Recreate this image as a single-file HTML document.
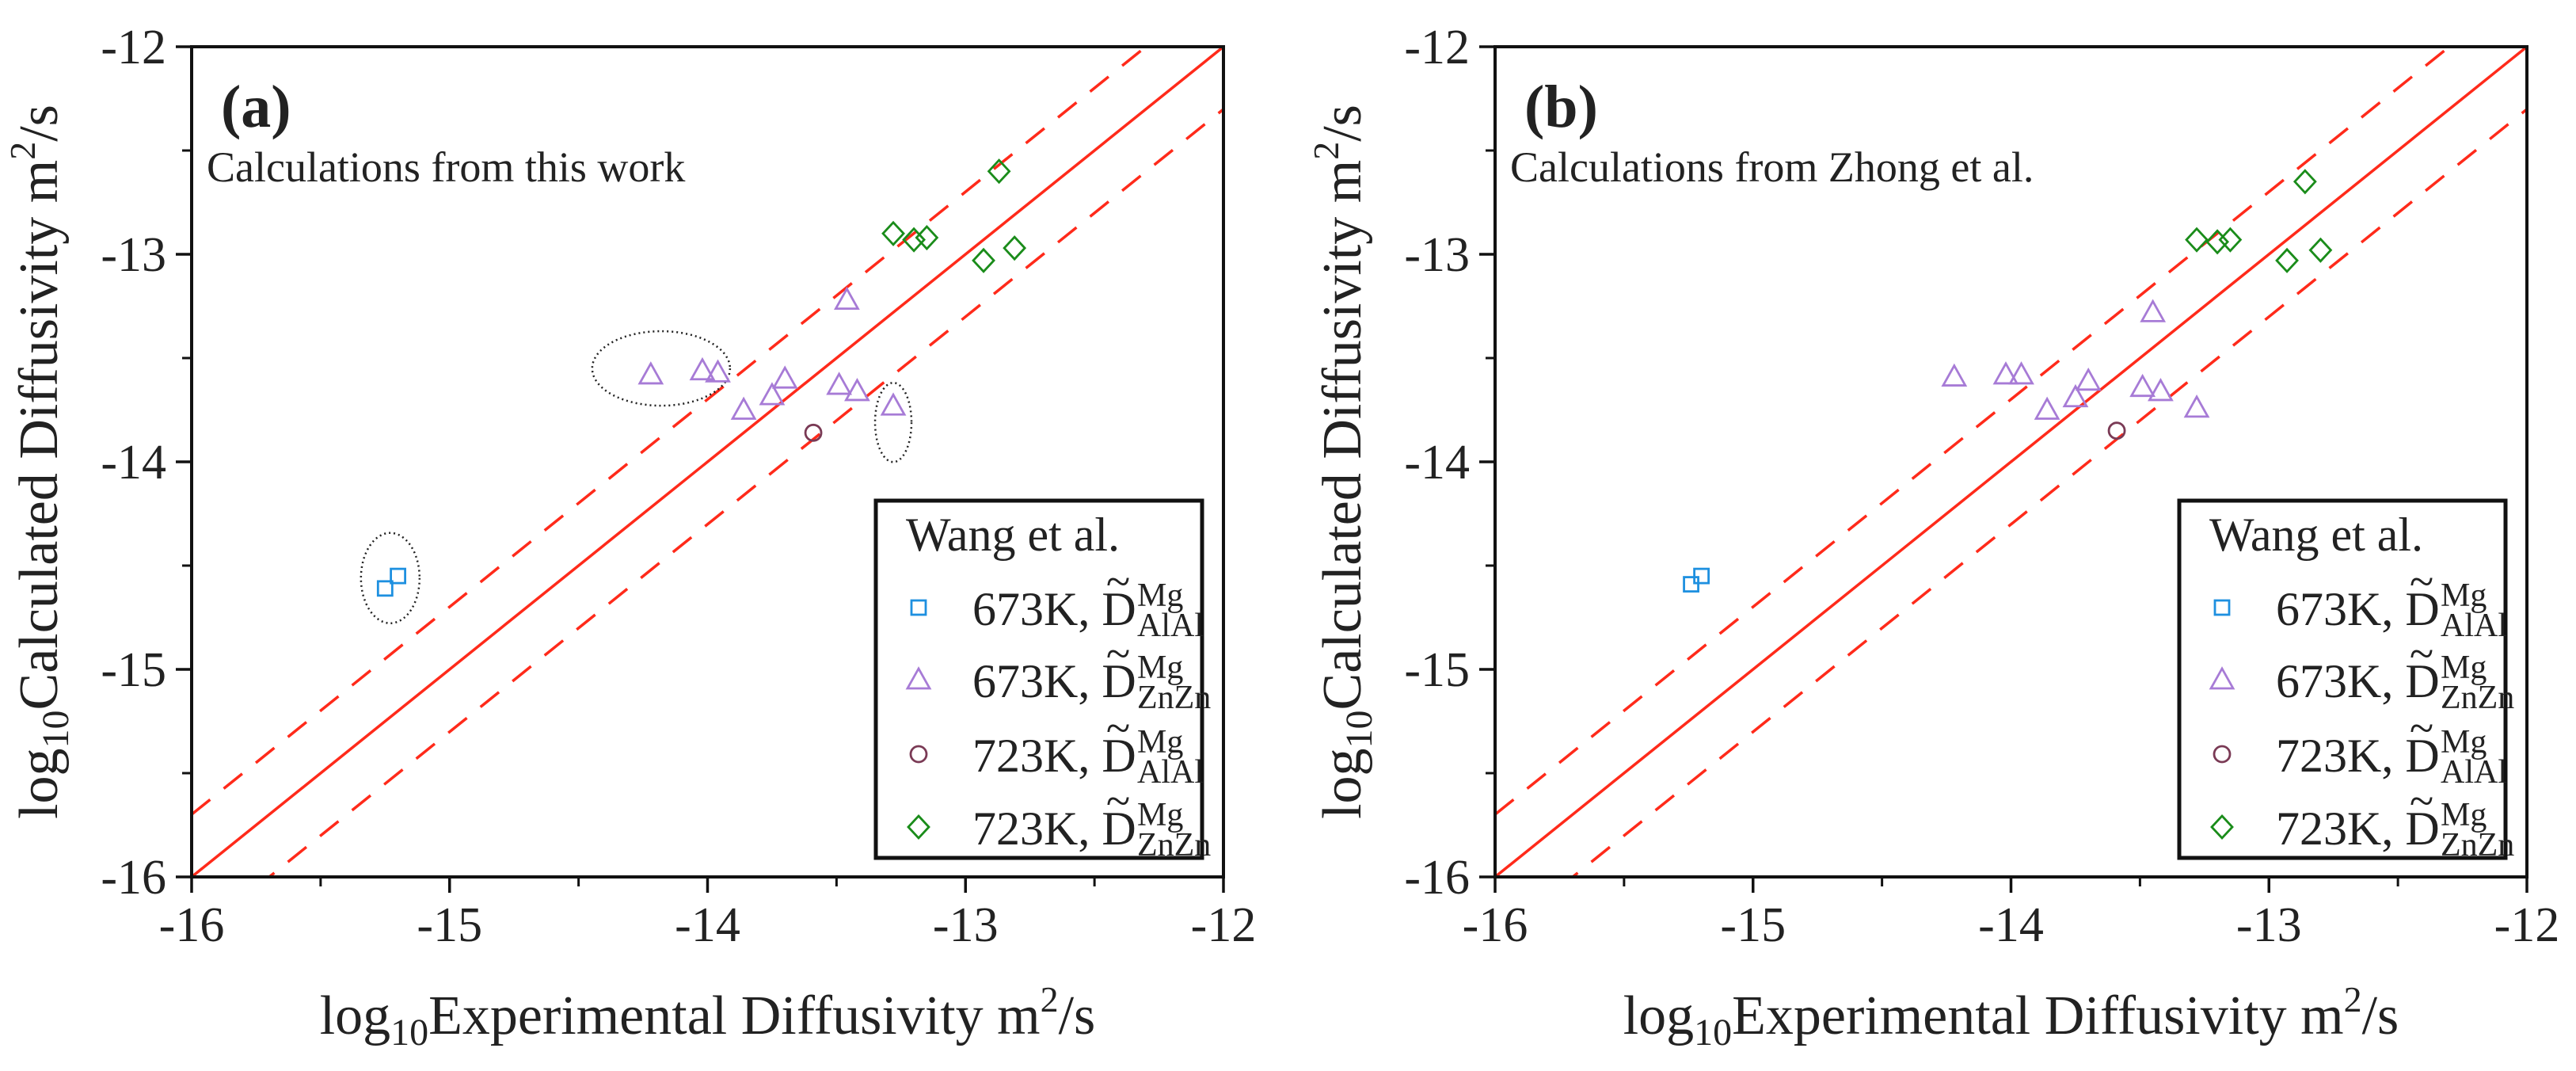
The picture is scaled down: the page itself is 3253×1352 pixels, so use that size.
<!DOCTYPE html>
<html><head><meta charset="utf-8"><style>
html,body{margin:0;padding:0;background:#fff}
svg{display:block}
text{font-family:"Liberation Serif",serif;fill:#222}
</style></head><body>
<svg id="fig" width="3253" height="1352" xmlns="http://www.w3.org/2000/svg"></svg>
<script>
const ticks=[-16,-15,-14,-13,-12];
const tickLabels=["-16","-15","-14","-13","-12"];
const minorTicks=[-15.5,-14.5,-13.5,-12.5];
const bandOffset=0.301;
// Panel a
const aSqX=[-15.25,-15.20], aSqY=[-14.61,-14.55];
const aTriX=[-14.22,-14.02,-13.96,-13.70,-13.75,-13.86,-13.49,-13.42,-13.46,-13.28];
const aTriY=[-13.58,-13.56,-13.57,-13.60,-13.68,-13.75,-13.63,-13.66,-13.22,-13.73];
const aCirX=[-13.59], aCirY=[-13.86];
const aDiaX=[-12.87,-13.28,-13.20,-13.15,-12.93,-12.81];
const aDiaY=[-12.60,-12.90,-12.93,-12.92,-13.03,-12.97];
// Panel b
const bSqX=[-15.24,-15.20], bSqY=[-14.59,-14.55];
const bTriX=[-14.22,-14.02,-13.96,-13.70,-13.75,-13.86,-13.49,-13.42,-13.45,-13.28];
const bTriY=[-13.59,-13.58,-13.58,-13.61,-13.69,-13.75,-13.64,-13.66,-13.28,-13.74];
const bCirX=[-13.59], bCirY=[-13.85];
const bDiaX=[-12.86,-13.28,-13.20,-13.15,-12.93,-12.80];
const bDiaY=[-12.65,-12.93,-12.94,-12.93,-13.03,-12.98];
// highlight ellipses (panel a): centers in data
const ellX=[-14.18,-13.28,-15.23], ellY=[-13.55,-13.81,-14.56];

const NS="http://www.w3.org/2000/svg";
const fig=document.getElementById('fig');
function mk(tag,attrs,parent){const e=document.createElementNS(NS,tag);for(const k in attrs)e.setAttribute(k,attrs[k]);(parent||fig).appendChild(e);return e;}
const COL={sq:"#1e90e0",tri:"#a77bd6",cir:"#7a3a55",dia:"#1a8c1a",red:"#ff2a1a"};
const B=1107,TOP=59,H=1048,W=1303;

function marker(g,type,cx,cy){
  let e;
  if(type==="sq"){e=mk('rect',{x:cx-9,y:cy-9,width:18,height:18,fill:"none",stroke:COL.sq,"stroke-width":2.8},g);}
  else if(type==="tri"){e=mk('polygon',{points:`${cx},${cy-14} ${cx-14},${cy+11} ${cx+14},${cy+11}`,fill:"none",stroke:COL.tri,"stroke-width":2.8},g);}
  else if(type==="cir"){e=mk('circle',{cx:cx,cy:cy,r:10,fill:"none",stroke:COL.cir,"stroke-width":2.8},g);}
  else {e=mk('polygon',{points:`${cx},${cy-14} ${cx+13},${cy} ${cx},${cy+14} ${cx-13},${cy}`,fill:"none",stroke:COL.dia,"stroke-width":2.8},g);}
  return e;
}

function panel(id,L,label,note,sets,ellipses){
  const g=mk('g',{});
  
  
  const sx=v=>L+(v+16)/4*W, sy=v=>B-(v+16)/4*H;
  const clip=mk('clipPath',{id:'clip'+id},g);mk('rect',{x:L,y:TOP,width:W,height:H},clip);
  const lines=mk('g',{'clip-path':`url(#clip${id})`},g);
  const d=mk('line',{x1:sx(-16),y1:sy(-16),x2:sx(-12),y2:sy(-12),stroke:COL.red,"stroke-width":3.5},lines);
  
  
  [bandOffset,-bandOffset].forEach((o,i)=>{
    const l=mk('line',{x1:sx(-16),y1:sy(-16+o),x2:sx(-12),y2:sy(-12+o),stroke:COL.red,"stroke-width":3.5,"stroke-dasharray":"30 22"},lines);
    
    
  });
  if(ellipses){
    const rx=[87,23,37],ry=[47,50,57];
    ellX.forEach((v,i)=>{
      const e=mk('ellipse',{cx:sx(v),cy:sy(ellY[i]),rx:rx[i],ry:ry[i],fill:"none",stroke:"#222","stroke-width":2.5,"stroke-dasharray":"2 4"},g);
      
      
    });
  }
  sets.forEach(s=>{
    s.x.forEach((v,i)=>{
      const m=marker(g,s.type,sx(v),sy(s.y[i]));
      
      
    });
  });
  const fr=mk('rect',{x:L,y:TOP,width:W,height:H,fill:"none",stroke:"#111","stroke-width":4},g);
  
  
  ticks.forEach((t,i)=>{
    mk('line',{x1:sx(t),y1:B,x2:sx(t),y2:B+20,stroke:"#111","stroke-width":3.5},g);
    mk('line',{x1:L,y1:sy(t),x2:L-20,y2:sy(t),stroke:"#111","stroke-width":3.5},g);
    const xl=mk('text',{x:sx(t),y:1188,"text-anchor":"middle","font-size":62},g);xl.textContent=tickLabels[i];
    
    
    const yl=mk('text',{x:L-32,y:sy(t)+21,"text-anchor":"end","font-size":62},g);yl.textContent=tickLabels[i];
    
    
  });
  minorTicks.forEach(t=>{
    mk('line',{x1:sx(t),y1:B,x2:sx(t),y2:B+12,stroke:"#111","stroke-width":3},g);
    mk('line',{x1:L,y1:sy(t),x2:L-12,y2:sy(t),stroke:"#111","stroke-width":3},g);
  });
  const xt=mk('text',{x:L+W/2,y:1305,"text-anchor":"middle","font-size":70},g);
  xt.innerHTML='log<tspan font-size="48" dy="14">10</tspan><tspan dy="-14">Experimental Diffusivity m</tspan><tspan font-size="46" dy="-28">2</tspan><tspan dy="28">/s</tspan>';
  
  
  const yt=mk('text',{x:0,y:0,"text-anchor":"middle","font-size":70,transform:`translate(${L-170},${TOP+H/2}) rotate(-90)`},g);
  yt.innerHTML='log<tspan font-size="48" dy="14">10</tspan><tspan dy="-14">Calculated Diffusivity m</tspan><tspan font-size="46" dy="-28">2</tspan><tspan dy="28">/s</tspan>';
  
  
  const pl=mk('text',{x:L+37,y:160,"font-size":76,"font-weight":"bold"},g);pl.textContent=label;
  
  
  const nt=mk('text',{x:L+19,y:229,"font-size":54},g);nt.textContent=note;
  
  
  // legend
  const lx=L+864,ly=632,lw=412,lh=451;
  const lg=mk('g',{},g);
  
  
  mk('rect',{x:lx,y:ly,width:lw,height:lh,fill:"#fff",stroke:"#111","stroke-width":5},lg);
  const lt=mk('text',{x:lx+38,y:ly+63,"font-size":60},lg);lt.textContent="Wang et al.";
  
  
  const rows=[["sq","673K, ","AlAl"],["tri","673K, ","ZnZn"],["cir","723K, ","AlAl"],["dia","723K, ","ZnZn"]];
  const rowY=[767,858,952,1044];
  rows.forEach((r,i)=>{
    const eg=mk('g',{},lg);
    
    
    marker(eg,r[0],lx+54,rowY[i]);
    const x0=lx+122, by=rowY[i]+22;
    const t1=mk('text',{x:x0,y:by,"font-size":60},eg);t1.textContent=r[1]+'D';
    const tl=mk('text',{x:x0+184,y:by-36,"font-size":56,"text-anchor":"middle"},eg);tl.textContent='~';
    const sp=mk('text',{x:x0+208,y:by-24,"font-size":42},eg);sp.textContent='Mg';
    const sb=mk('text',{x:x0+208,y:by+14,"font-size":42},eg);sb.textContent=r[2];
  });
}
panel('a',242,'(a)','Calculations from this work',[
  {type:'sq',name:'673k-alal',x:aSqX,y:aSqY},{type:'tri',name:'673k-znzn',x:aTriX,y:aTriY},
  {type:'cir',name:'723k-alal',x:aCirX,y:aCirY},{type:'dia',name:'723k-znzn',x:aDiaX,y:aDiaY}],true);
panel('b',1888,'(b)','Calculations from Zhong et al.',[
  {type:'sq',name:'673k-alal',x:bSqX,y:bSqY},{type:'tri',name:'673k-znzn',x:bTriX,y:bTriY},
  {type:'cir',name:'723k-alal',x:bCirX,y:bCirY},{type:'dia',name:'723k-znzn',x:bDiaX,y:bDiaY}],false);
</script>
</body></html>
